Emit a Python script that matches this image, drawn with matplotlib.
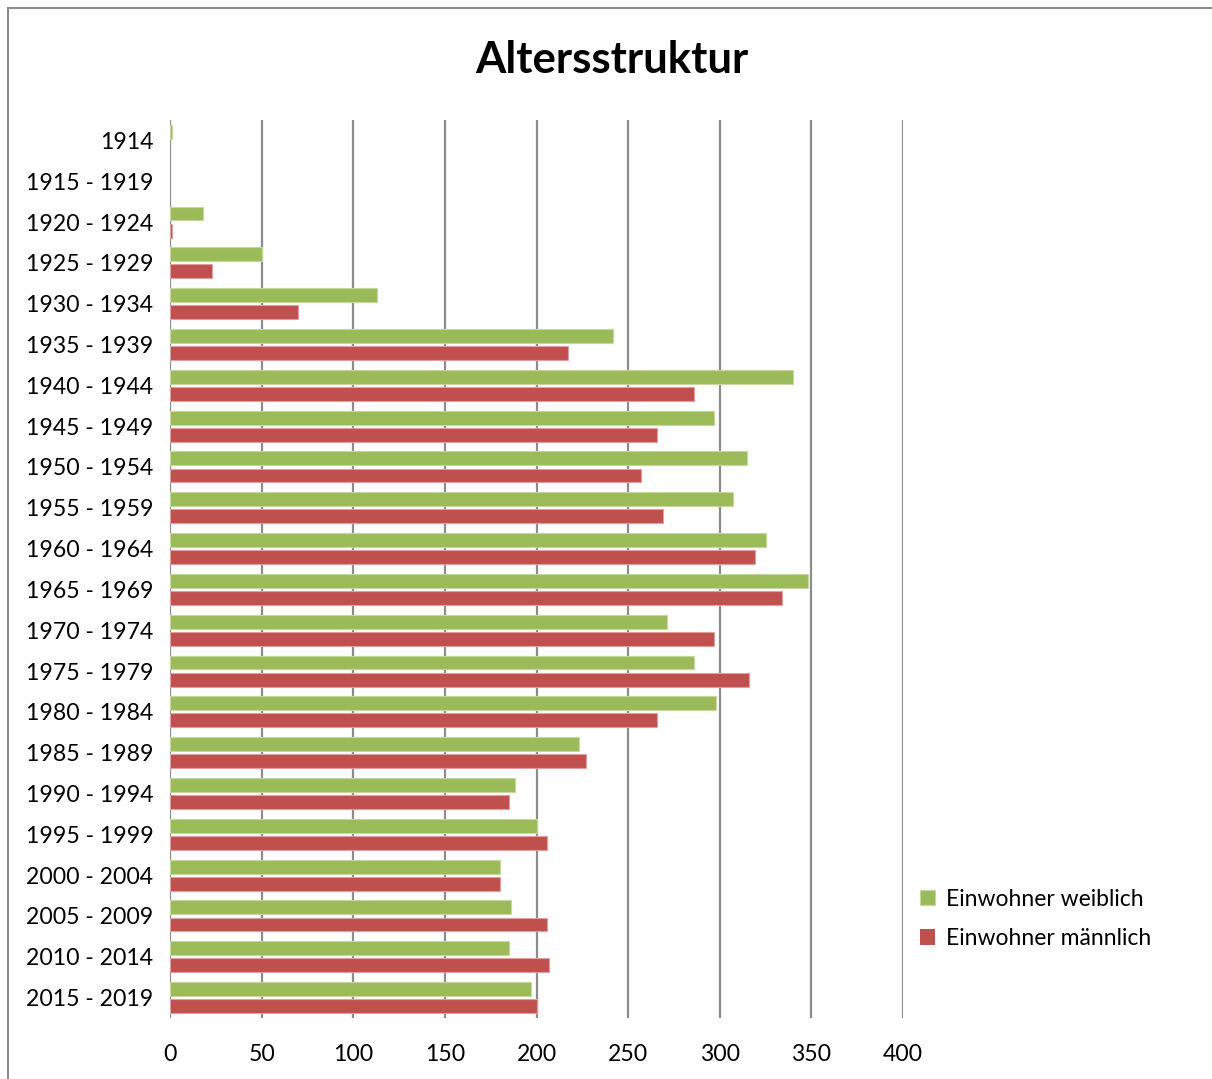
import matplotlib.pyplot as plt
import numpy as np
from matplotlib.patches import Rectangle

plt.rcParams['font.family'] = ['Lato', 'DejaVu Sans']

# Altersstruktur nach Geburtsjahrgang
jahrgaenge = ["1914", "1915 - 1919", "1920 - 1924", "1925 - 1929", "1930 - 1934",
              "1935 - 1939", "1940 - 1944", "1945 - 1949", "1950 - 1954", "1955 - 1959",
              "1960 - 1964", "1965 - 1969", "1970 - 1974", "1975 - 1979", "1980 - 1984",
              "1985 - 1989", "1990 - 1994", "1995 - 1999", "2000 - 2004", "2005 - 2009",
              "2010 - 2014", "2015 - 2019"]
weiblich = [1, 0, 18, 50, 113, 242, 340, 297, 315, 307, 325, 348, 271, 286, 298,
            223, 188, 200, 180, 186, 185, 197]
maennlich = [0, 0, 1, 23, 70, 217, 286, 266, 257, 269, 319, 334, 297, 316, 266,
             227, 185, 206, 180, 206, 207, 200]

fig = plt.figure(figsize=(12.12, 10.79), dpi=100)
ax = fig.add_axes([170/1212, 1 - 1018/1079, (903-170)/1212, (1018-120)/1079])

y = np.arange(len(jahrgaenge))
h = 0.34
ew = ["#C5D8A0" if v > 0 else "none" for v in weiblich]
em = ["#E0A09E" if v > 0 else "none" for v in maennlich]
ax.barh(y - 0.21, weiblich, height=h, color="#9BBB59", edgecolor=ew,
        linewidth=0.8, label="Einwohner weiblich", zorder=3)
ax.barh(y + 0.21, maennlich, height=h, color="#C0504D", edgecolor=em,
        linewidth=0.8, label="Einwohner männlich", zorder=3)

ax.set_xlim(0, 400)
ax.set_ylim(len(jahrgaenge) - 0.5, -0.5)
ax.set_xticks(range(0, 401, 50))
ax.set_yticks(y)
ax.set_yticklabels(jahrgaenge)
ax.tick_params(axis="both", length=0, labelsize=16.6)
ax.tick_params(axis="x", pad=19)
ax.tick_params(axis="y", pad=12)
for s in ax.spines.values():
    s.set_visible(False)
ax.grid(axis="x", color="#8C8C8C", linewidth=1.6, zorder=0)
ax.set_axisbelow(True)

fig.text(612/1212, 1 - 60/1079, "Altersstruktur", ha="center", va="center",
         fontsize=31.5, fontweight="bold")

fig.legend(loc="upper left", bbox_to_anchor=(899/1212, 1 - 868/1079),
           frameon=False, fontsize=16.5, handlelength=0.65, handleheight=0.65,
           handletextpad=0.5, labelspacing=0.8)

fig.patches.append(Rectangle((8/1212, -0.1), 1.2, 1 - 8/1079 + 0.1,
                             transform=fig.transFigure, fill=False,
                             edgecolor="#8C8C8C", linewidth=1.5))

plt.savefig("out.png", dpi=100)
